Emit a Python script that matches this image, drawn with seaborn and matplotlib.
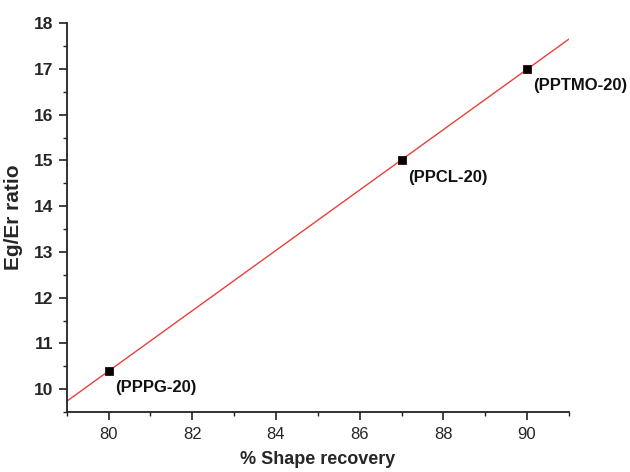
import numpy as np
import pandas as pd
import matplotlib
matplotlib.use("Agg")
import matplotlib.pyplot as plt
import seaborn as sns
from matplotlib.ticker import MultipleLocator

shape_recovery = [80, 87, 90]
eg_er_ratio = [10.4, 15.0, 17.0]
sample_labels = ["(PPPG-20)", "(PPCL-20)", "(PPTMO-20)"]

sns.set_style("ticks")
plt.rcParams['font.family'] = ['Liberation Sans', 'DejaVu Sans']

df = pd.DataFrame({"x": shape_recovery, "y": eg_er_ratio, "label": sample_labels})

fig = plt.figure(figsize=(6.3, 4.72), dpi=100)
ax = fig.add_axes([0.106, 0.127, 0.797, 0.824])
ax.set_xlim(79, 91)
ax.set_ylim(9.5, 18)

sns.regplot(data=df, x="x", y="y", ax=ax, ci=None, truncate=False, scatter=False,
            line_kws=dict(color="#e8413c", lw=1.0))
sns.scatterplot(data=df, x="x", y="y", ax=ax, marker="s", s=32, color="black",
                edgecolor="#3a0000", linewidth=0.6, zorder=5)

for xv, yv, lab in zip(shape_recovery, eg_er_ratio, sample_labels):
    ax.annotate(lab, (xv, yv), xytext=(4.5, -12), textcoords="offset points",
                ha="left", va="center", fontsize=12, fontweight="bold", color="#111111")

ax.set_xlim(79, 91)
ax.set_ylim(9.5, 18)
ax.xaxis.set_major_locator(MultipleLocator(2))
ax.xaxis.set_minor_locator(MultipleLocator(1))
ax.yaxis.set_major_locator(MultipleLocator(1))
ax.yaxis.set_minor_locator(MultipleLocator(0.5))

sns.despine(ax=ax)
for s in ["left", "bottom"]:
    ax.spines[s].set_linewidth(1.3)
    ax.spines[s].set_color("#222222")
ax.tick_params(which="major", direction="out", length=6, width=1.2, color="#222222")
ax.tick_params(which="minor", direction="out", length=3, width=1.0, color="#222222")
ax.tick_params(axis="x", labelsize=12, pad=5)
ax.tick_params(axis="y", labelsize=12.5)
for t in ax.get_yticklabels():
    t.set_fontweight("bold")

ax.set_xlabel("% Shape recovery", fontsize=13, fontweight="bold", labelpad=6)
ax.set_ylabel("Eg/Er ratio", fontsize=15, fontweight="bold", labelpad=8)

fig.savefig("out.png", dpi=100)
